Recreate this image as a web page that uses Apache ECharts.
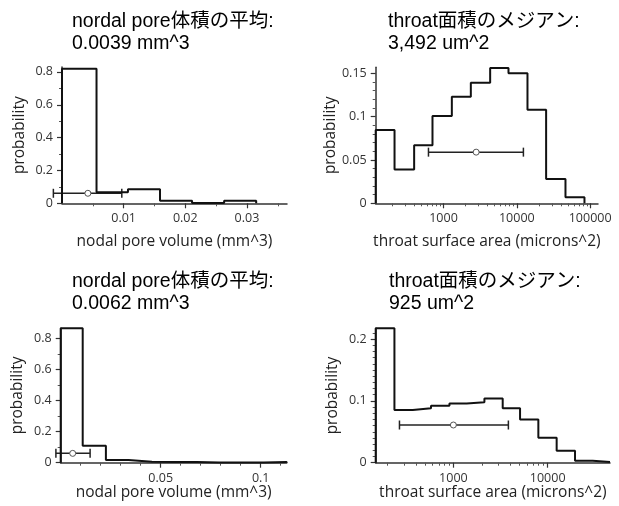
<!DOCTYPE html>
<html>
<head>
  <meta charset="utf-8" />
  <script src="https://cdn.jsdelivr.net/npm/echarts@6/dist/echarts.min.js"></script>
  <style>
    html, body { margin: 0; padding: 0; background: #fff; }
    #chart { width: 619px; height: 506px; }
  </style>
</head>
<body>
  <div id="chart"></div>
  <script type="text/javascript">
    // panel titles
    const titles = [
      "nordal pore体積の平均:\n0.0039 mm^3",
      "throat面積のメジアン:\n3,492 um^2",
      "nordal pore体積の平均:\n0.0062 mm^3",
      "throat面積のメジアン:\n925 um^2"
    ];
    const volName = "nodal pore volume (mm^3)";
    const areaName = "throat surface area (microns^2)";

    // top left: pore volume histogram (bin edges + probability per bin)
    const volEdgesA = [0, 0.0056, 0.0107, 0.0159, 0.0211, 0.0263, 0.0315];
    const volProbA = [0.82, 0.067, 0.086, 0.015, 0.002, 0.015];
    const volErrA = [-0.0014, 0.0042, 0.0097, 0.061]; // low, centre, high, y

    // top right: throat area histogram (log x)
    const areaEdgesA = [119, 215, 398, 708, 1300, 2360, 4330, 7700, 13980, 25100, 46100, 83700];
    const areaProbA = [0.0846, 0.039, 0.067, 0.1007, 0.123, 0.139, 0.156, 0.150, 0.108, 0.028, 0.007];
    const areaErrA = [624, 2790, 12300, 0.059];

    // bottom left
    const volEdgesB = [0, 0.011, 0.0226, 0.0339, 0.0456, 0.0568, 0.0681, 0.0792, 0.0904, 0.1015, 0.113];
    const volProbB = [0.864, 0.109, 0.017, 0.006, 0.004, 0.004, 0.001, 0.001, 0.001, 0.005];
    const volErrB = [-0.0024, 0.006, 0.0147, 0.06];

    // bottom right
    const areaEdgesB = [150, 237, 371, 579, 908, 1384, 2133, 3334, 5093, 7962, 12450, 19500, 30000, 45800];
    const areaProbB = [0.2175, 0.0853, 0.088, 0.092, 0.096, 0.0977, 0.104, 0.088, 0.070, 0.0405, 0.0194, 0.003, 0.001];
    const areaErrB = [268, 1000, 3830, 0.061];

    // tick values
    const volTicksA = [0.01, 0.02, 0.03];
    const volTicksB = [0.05, 0.1];
    const areaTicksA = [1000, 10000, 100000];
    const areaTicksB = [1000, 10000];
    const probTicksA = [0, 0.2, 0.4, 0.6, 0.8];
    const probTicksB = [0, 0.05, 0.1, 0.15];
    const probTicksC = [0, 0.2, 0.4, 0.6, 0.8];
    const probTicksD = [0, 0.1, 0.2];

    const TXT = "'Open Sans', 'Noto Sans CJK JP', sans-serif";
    const TITLE = "'Liberation Sans', 'Noto Sans CJK JP', sans-serif";
    const INK = '#111';

    function steps(edges, probs) {
      const pts = [[edges[0], 0]];
      probs.forEach((p, i) => pts.push([edges[i], p]));
      pts.push([edges[edges.length - 1], 0]);
      return pts;
    }

    // minor ticks of a log axis: 2..9 in each decade
    function logMinor(from, to) {
      const out = [];
      for (let d = from; d < to; d *= 10) {
        for (let k = 2; k < 10; k++) out.push(d * k);
      }
      return out;
    }

    function errorBar(params, api) {
      const y = api.value(3);
      const lo = api.coord([api.value(0), y]);
      const mid = api.coord([api.value(1), y]);
      const hi = api.coord([api.value(2), y]);
      const st = { stroke: '#222', lineWidth: 1.5 };
      return {
        type: 'group',
        children: [
          { type: 'line', shape: { x1: lo[0], y1: lo[1], x2: hi[0], y2: hi[1] }, style: st },
          { type: 'line', shape: { x1: lo[0], y1: lo[1] - 4.5, x2: lo[0], y2: lo[1] + 4.5 }, style: st },
          { type: 'line', shape: { x1: hi[0], y1: hi[1] - 4.5, x2: hi[0], y2: hi[1] + 4.5 }, style: st },
          { type: 'circle', shape: { cx: mid[0], cy: mid[1], r: 3 }, style: { fill: '#fff', stroke: '#555', lineWidth: 1 } }
        ]
      };
    }

    const axisLine = { show: true, lineStyle: { color: '#333', width: 1.5 } };
    const label = { color: '#333', fontFamily: TXT, fontSize: 12.5, margin: 9 };
    const nameStyle = { color: '#222', fontFamily: TXT, fontSize: 15.5 };
    const plain = v => String(v);

    function xValue(grid, min, max, interval, ticks, minor, gap) {
      return {
        type: 'value', gridIndex: grid, min: min, max: max, interval: interval,
        axisLine: axisLine,
        axisTick: { show: true, length: 5, customValues: ticks, lineStyle: { color: '#333', width: 1.2 } },
        minorTick: { show: true, splitNumber: minor, length: 3, lineStyle: { color: '#555', width: 1 } },
        axisLabel: Object.assign({ customValues: ticks, formatter: plain }, label),
        splitLine: { show: false }, minorSplitLine: { show: false },
        name: volName, nameLocation: 'middle', nameGap: gap, nameTextStyle: nameStyle
      };
    }

    function xLog(grid, min, max, ticks, gap) {
      return {
        type: 'log', logBase: 10, gridIndex: grid, min: min, max: max, position: 'bottom',
        axisLine: axisLine,
        axisTick: { show: true, length: 5, customValues: ticks, lineStyle: { color: '#333', width: 1.2 } },
        axisLabel: Object.assign({ customValues: ticks, formatter: plain }, label),
        splitLine: { show: false },
        name: areaName, nameLocation: 'middle', nameGap: gap, nameTextStyle: nameStyle
      };
    }

    function xLogMinor(grid, min, max, ticks) {
      return {
        type: 'log', logBase: 10, gridIndex: grid, min: min, max: max, position: 'bottom', offset: 0,
        axisLine: { show: false },
        axisTick: { show: true, length: 3, customValues: ticks, lineStyle: { color: '#555', width: 1 } },
        axisLabel: { show: false },
        splitLine: { show: false }
      };
    }

    function yValue(grid, max, interval, ticks, minor) {
      return {
        type: 'value', gridIndex: grid, min: 0, max: max, interval: interval,
        axisLine: axisLine,
        axisTick: { show: true, length: 5, customValues: ticks, lineStyle: { color: '#333', width: 1.2 } },
        minorTick: { show: true, splitNumber: minor, length: 3, lineStyle: { color: '#555', width: 1 } },
        axisLabel: Object.assign({ customValues: ticks, formatter: plain }, label),
        splitLine: { show: false }, minorSplitLine: { show: false },
        name: 'probability', nameLocation: 'middle', nameGap: 35, nameTextStyle: nameStyle
      };
    }

    function stepSeries(x, y, edges, probs) {
      return {
        type: 'line', xAxisIndex: x, yAxisIndex: y, step: 'end',
        data: steps(edges, probs), showSymbol: false, clip: false,
        lineStyle: { color: INK, width: 2 }
      };
    }

    function errSeries(x, y, err) {
      return {
        type: 'custom', xAxisIndex: x, yAxisIndex: y, clip: false,
        renderItem: errorBar, encode: { x: [0, 1, 2], y: 3 }, data: [err], z: 3
      };
    }

    const chart = echarts.init(document.getElementById('chart'), null, { renderer: 'canvas' });

    const titleLeft = [72, 388, 72, 389];
    const titleTop = [11, 11, 271, 271];

    const option = {
      animation: false,
      backgroundColor: '#fff',
      title: titles.map((t, i) => ({
        text: t, left: titleLeft[i], top: titleTop[i], padding: 0,
        textStyle: { fontFamily: TITLE, fontSize: 19.5, fontWeight: 'normal', color: '#000', lineHeight: 21.5 }
      })),
      grid: [
        { left: 62, top: 67, width: 225, height: 136.3 },
        { left: 375.7, top: 67.2, width: 222.3, height: 136.1 },
        { left: 60.7, top: 328.2, width: 226, height: 134.5 },
        { left: 375.7, top: 328.3, width: 234.3, height: 134.4 }
      ],
      xAxis: [
        xValue(0, 0, 0.0365, 0.01, volTicksA, 2, 31),
        xLog(1, 119, 128000, areaTicksA, 31),
        xValue(2, 0, 0.113, 0.05, volTicksB, 5, 22),
        xLog(3, 150, 45800, areaTicksB, 22),
        xLogMinor(1, 119, 128000, logMinor(100, 100000)),
        xLogMinor(3, 150, 45800, logMinor(100, 10000))
      ],
      yAxis: [
        yValue(0, 0.83, 0.2, probTicksA, 2),
        yValue(1, 0.157, 0.05, probTicksB, 5),
        yValue(2, 0.865, 0.2, probTicksC, 2),
        yValue(3, 0.2175, 0.1, probTicksD, 10)
      ],
      series: [
        stepSeries(0, 0, volEdgesA, volProbA),
        errSeries(0, 0, volErrA),
        stepSeries(1, 1, areaEdgesA, areaProbA),
        errSeries(1, 1, areaErrA),
        stepSeries(2, 2, volEdgesB, volProbB),
        errSeries(2, 2, volErrB),
        stepSeries(3, 3, areaEdgesB, areaProbB),
        errSeries(3, 3, areaErrB)
      ]
    };

    chart.setOption(option);
  </script>
</body>
</html>
